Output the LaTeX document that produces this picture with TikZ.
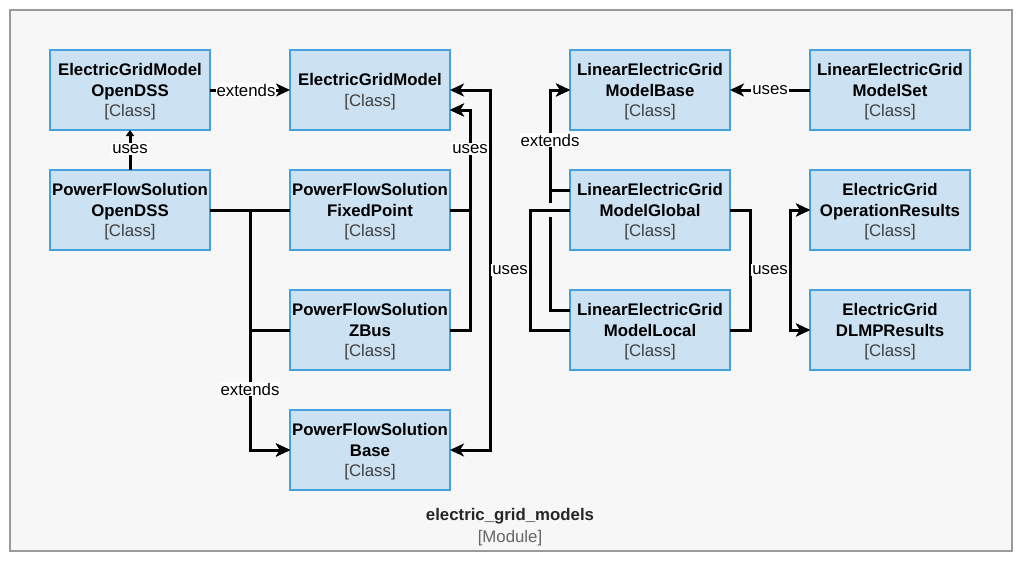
\documentclass[tikz,border=0pt]{standalone}
\usepackage{fontspec}
\setmainfont{Liberation Sans}
\usetikzlibrary{arrows.meta}
\definecolor{boxfill}{HTML}{CCE2F3}
\definecolor{boxdraw}{HTML}{45A0DE}
\definecolor{framefill}{HTML}{F7F7F7}
\definecolor{framedraw}{HTML}{9A9A9A}
\definecolor{classgray}{HTML}{404040}
\definecolor{modgray}{HTML}{666666}
\newcommand{\cls}[2]{\textbf{#1}\\\textbf{#2}\\{\color{classgray}[Class]}}
\begin{document}
\begin{tikzpicture}[x=1pt,y=-1pt,
  classbox/.style={draw=boxdraw,fill=boxfill,line width=2pt,minimum width=160pt,minimum height=80pt,
    outer sep=0pt,align=center,inner sep=0pt,font=\fontsize{16.8}{20.5}\selectfont,text=black,
    text depth=0pt},
  conn/.style={line width=3pt,black},
  arr/.style={conn,-{Stealth[length=14pt,width=13pt,inset=4pt]}},
  arrboth/.style={conn,{Stealth[length=14pt,width=13pt,inset=4pt]}-{Stealth[length=14pt,width=13pt,inset=4pt]}},
  arrsmall/.style={conn,-{Triangle[length=6pt,width=8pt]}},
  lbl/.style={fill=white,inner sep=1pt,font=\fontsize{16.8}{20}\selectfont,text=black}]
\useasboundingbox (0,0) rectangle (1022,563);
\draw[fill=framefill,draw=framedraw,line width=2pt] (10,10) rectangle (1012,551);

\node[classbox] (A) at (130,90) {\cls{ElectricGridModel}{OpenDSS}};
\node[classbox] (B) at (370,90) {\textbf{ElectricGridModel}\\{\color{classgray}[Class]}};
\node[classbox] (C) at (130,210) {\cls{PowerFlowSolution}{OpenDSS}};
\node[classbox] (D) at (370,210) {\cls{PowerFlowSolution}{FixedPoint}};
\node[classbox] (E) at (370,330) {\cls{PowerFlowSolution}{ZBus}};
\node[classbox] (F) at (370,450) {\cls{PowerFlowSolution}{Base}};
\node[classbox] (G) at (650,90) {\cls{LinearElectricGrid}{ModelBase}};
\node[classbox] (H) at (890,90) {\cls{LinearElectricGrid}{ModelSet}};
\node[classbox] (I) at (650,210) {\cls{LinearElectricGrid}{ModelGlobal}};
\node[classbox] (J) at (650,330) {\cls{LinearElectricGrid}{ModelLocal}};
\node[classbox] (K) at (890,210) {\cls{ElectricGrid}{OperationResults}};
\node[classbox] (L) at (890,330) {\cls{ElectricGrid}{DLMPResults}};

\node[align=center,font=\fontsize{16.8}{22}\selectfont] (M) at (510,527)
  {{\color{black!85}\textbf{electric\_grid\_models}}\\{\color{modgray}[Module]}};

% extends / uses on the left
\draw[arr] (A.east) -- (B.west);
\draw[arrsmall] (C.north) -- (A.south);
\draw[arr] (C.east) -- ++(40,0) |- (F.west);
\draw[arr] (D.west) -- ++(-40,0) |- (F.west);
\draw[arr] (E.west) -- ++(-40,0) |- (F.west);
\draw[arr] (D.east) -- ++(20,0) |- ([yshift=-20pt]B.east);
\draw[arr] (E.east) -- ++(20,0) |- ([yshift=-20pt]B.east);

% extends on the right
\draw[arr] ([yshift=20pt]I.west) -- ++(-20,0) |- (G.west);
\draw[arr] ([yshift=20pt]J.west) -- ++(-20,0) |- (G.west);
% line jump gap
\draw[framefill,line width=4.5pt] (550,203) -- (550,217);

% uses to B and F
\draw[arrboth] (B.east) -| (490,270) |- (F.east);
\draw[conn] (I.west) -- ++(-40,0) -- ++(0,60) -- ++(-40,0);
\draw[conn] (J.west) -- ++(-40,0) -- ++(0,-60) -- ++(-40,0);

\draw[arr] (H.west) -- (G.east);
\draw[arr] (I.east) -- ++(20,0) -- ++(0,60) -- ++(40,0) |- (K.west);
\draw[arr] (I.east) -- ++(20,0) -- ++(0,60) -- ++(40,0) |- (L.west);
\draw[arr] (J.east) -- ++(20,0) -- ++(0,-60) -- ++(40,0) |- (K.west);
\draw[arr] (J.east) -- ++(20,0) -- ++(0,-60) -- ++(40,0) |- (L.west);

% labels
\node[lbl] (l1) at (246,90) {extends};
\node[lbl] (l2) at (130,149) {uses};
\node[lbl] (l3) at (250,389) {extends};
\node[lbl] (l4) at (470,149) {uses};
\node[lbl] (l5) at (510,270) {uses};
\node[lbl] (l6) at (550,140) {extends};
\node[lbl] (l7) at (770,90) {uses};
\node[lbl] (l8) at (770,270) {uses};
\end{tikzpicture}
\end{document}
